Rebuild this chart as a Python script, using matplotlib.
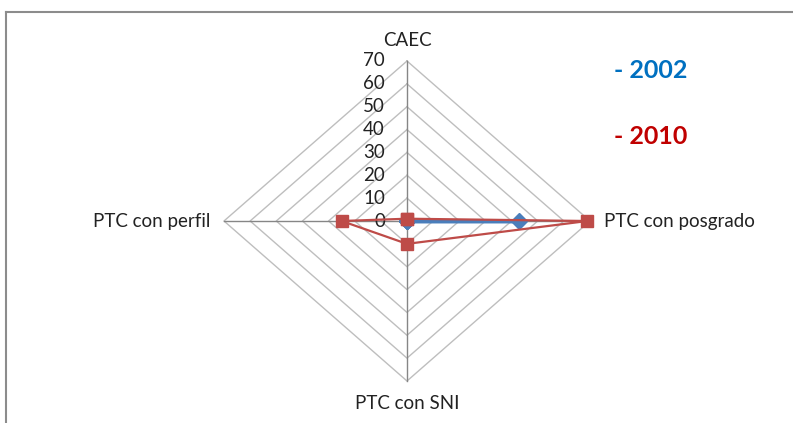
import matplotlib
matplotlib.use("Agg")
import matplotlib.pyplot as plt
import numpy as np

categories = ["CAEC", "PTC con posgrado", "PTC con SNI", "PTC con perfil"]
series_2002 = [0, 43, 0, 0]
series_2010 = [1, 69, 10, 25]
ticks = [0, 10, 20, 30, 40, 50, 60, 70]
rmax = 70

W, H = 793, 423
fig = plt.figure(figsize=(W / 100, H / 100), dpi=100)
ax = fig.add_axes([0, 0, 1, 1])
ax.axis("off")

# pixel geometry of the radar
cx, cy = 407, 221
rx_px, ry_px = 183, 160
sx = rmax / rx_px
sy = rmax / ry_px
ax.set_xlim(-cx * sx, (W - cx) * sx)
ax.set_ylim(-(H - cy) * sy, cy * sy)

angles = np.array([90, 0, -90, 180]) * np.pi / 180
dx = np.cos(angles)
dy = np.sin(angles)

def xy(vals):
    v = np.asarray(vals, float)
    x = v * dx
    y = v * dy
    return np.append(x, x[0]), np.append(y, y[0])

# grid diamonds
for t in ticks[1:]:
    gx, gy = xy([t] * 4)
    ax.plot(gx, gy, color="#BEBEBE", lw=1, zorder=1)
# spokes
for a in range(4):
    ax.plot([0, rmax * dx[a]], [0, rmax * dy[a]], color="#868686", lw=1, zorder=2)

FS = 13.5
# tick labels
for t in ticks:
    ax.text(-22 * sx, t, str(t), ha="right", va="center",
            fontsize=FS, family="Lato", color="#222222", zorder=3)

# category labels
ax.text(0, rmax + 20 * sy, categories[0], ha="center", va="center",
        fontsize=FS, family="Lato", color="#222222")
ax.text(rmax + 14 * sx, 0, categories[1], ha="left", va="center",
        fontsize=FS, family="Lato", color="#222222")
ax.text(0, -rmax - 22 * sy, categories[2], ha="center", va="center",
        fontsize=FS, family="Lato", color="#222222")
ax.text(-rmax - 14 * sx, 0, categories[3], ha="right", va="center",
        fontsize=FS, family="Lato", color="#222222")

# series
bx, by = xy(series_2002)
ax.plot(bx, by, color="#4A7EBB", lw=2.5, marker="D", markersize=8,
        markerfacecolor="#4A7EBB", markeredgecolor="#4A7EBB", zorder=4)
rxp, ryp = xy(series_2010)
ax.plot(rxp, ryp, color="#BE4B48", lw=1.6, marker="s", markersize=8,
        markerfacecolor="#BE4B48", markeredgecolor="#BE4B48", zorder=5)

# legend-like labels
fig.text(614 / W, 1 - 70 / H, "- 2002", fontsize=18, fontweight="bold",
         color="#0070C0", family="Lato", ha="left", va="center")
fig.text(614 / W, 1 - 136 / H, "- 2010", fontsize=18, fontweight="bold",
         color="#C00000", family="Lato", ha="left", va="center")

# frame (top and left visible)
fig.add_artist(plt.Line2D([6 / W, 1], [1 - 12 / H, 1 - 12 / H],
                          transform=fig.transFigure, color="#8C8C8C", lw=1.5))
fig.add_artist(plt.Line2D([6 / W, 6 / W], [0, 1 - 12 / H],
                          transform=fig.transFigure, color="#8C8C8C", lw=1.5))

fig.savefig("out.png", dpi=100)
